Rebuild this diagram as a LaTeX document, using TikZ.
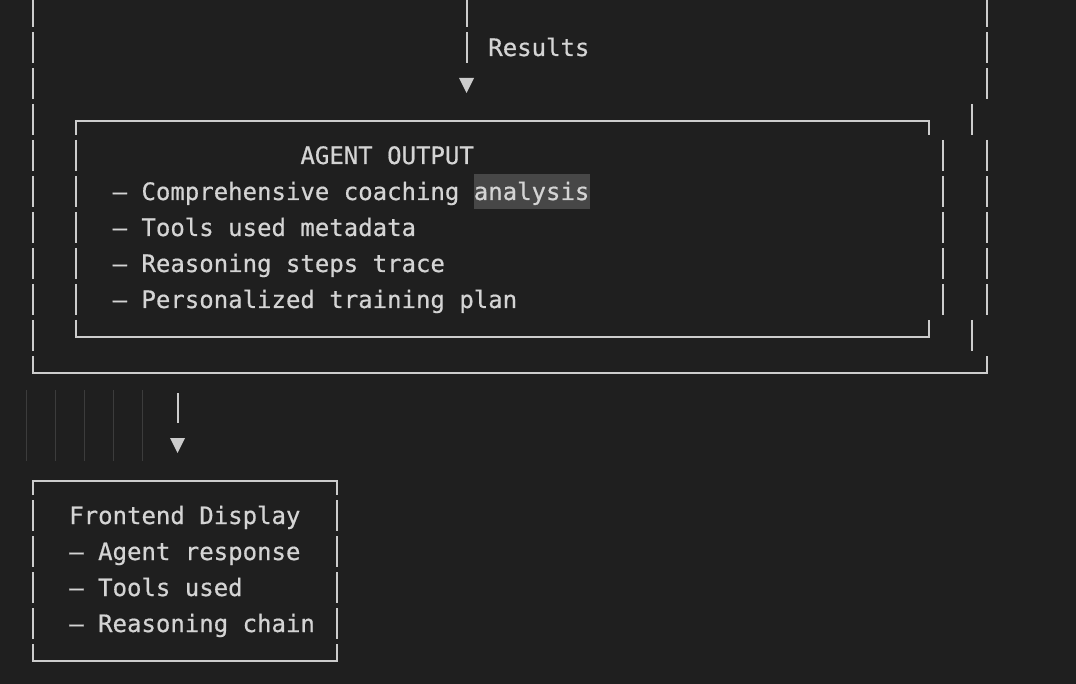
\documentclass[tikz,border=0pt]{standalone}
\usepackage{fontspec}
\newfontfamily\monofam[FakeBold=0.6]{DejaVu Sans Mono}
\definecolor{bgc}{HTML}{1F1F1F}
\definecolor{fgc}{HTML}{CCCCCC}
\definecolor{txc}{HTML}{D4D4D4}
\definecolor{hlc}{HTML}{474747}
\definecolor{guidec}{HTML}{3C3C3C}
\begin{document}
\begin{tikzpicture}[x=1pt,y=-1pt,
  bar/.style={draw=fgc,line width=2pt},
  guide/.style={draw=guidec,line width=1pt},
  txt/.style={text=txc,font=\monofam\fontsize{24pt}{36pt}\selectfont,inner sep=0pt,outer sep=0pt,anchor=base west},
  tri/.style={fill=fgc}]
\fill[bgc] (0,0) rectangle (1076,684);
\useasboundingbox (0,0) rectangle (1076,684);

% highlight behind "analysis"
\fill[hlc] (473.9,174) rectangle (589.5,209);

% ---- outer box (rows 0..10) ----
\foreach \r in {0,...,9}
  \draw[bar] (33.1,{-7+36*\r+3}) -- (33.1,{-7+36*\r+34});
\foreach \r in {0,1,2,4,5,6,7,8}
  \draw[bar] (986.8,{-7+36*\r+3}) -- (986.8,{-7+36*\r+34});
\foreach \r in {3,9}
  \draw[bar] (972.35,{-7+36*\r+3}) -- (972.35,{-7+36*\r+34});
\coordinate (outbl) at (33.1,373);
\coordinate (outbr) at (986.8,373);
\draw[bar] (33.1,356) -- (outbl) -- (outbr) -- (986.8,356);

% ---- inner AGENT OUTPUT box ----
\coordinate (intl) at (76.45,121);
\coordinate (intr) at (929,121);
\coordinate (inbl) at (76.45,337);
\coordinate (inbr) at (929,337);
\draw[bar] (76.45,135) -- (intl) -- (intr) -- (929,135);
\draw[bar] (76.45,320) -- (inbl) -- (inbr) -- (929,320);
\foreach \r in {4,...,8}{
  \draw[bar] (76.45,{-7+36*\r+3}) -- (76.45,{-7+36*\r+34});
  \draw[bar] (943.45,{-7+36*\r+3}) -- (943.45,{-7+36*\r+34});
}

% ---- Results arrow ----
\foreach \r in {0,1}
  \draw[bar] (466.6,{-7+36*\r+3}) -- (466.6,{-7+36*\r+34});
\coordinate (tipA) at (466.6,93);
\fill[tri] (tipA) -- ++(-7.5,-15) -- ++(15,0) -- cycle;
\node[txt] (lblres) at (488.3,56) {Results};

% ---- AGENT OUTPUT text ----
\node[txt] (agtitle) at (300.45,164) {AGENT OUTPUT};
\node[txt] (ag1) at (112.6,200) {– Comprehensive coaching analysis};
\node[txt] (ag2) at (112.6,236) {– Tools used metadata};
\node[txt] (ag3) at (112.6,272) {– Reasoning steps trace};
\node[txt] (ag4) at (112.6,308) {– Personalized training plan};

% ---- indentation guides ----
\foreach \gx in {26.9,55.8,84.7,113.6,142.5}
  \draw[guide] (\gx,390) -- (\gx,461);

% ---- arrow to frontend ----
\coordinate (arrBs) at (177.6,393);
\coordinate (arrBe) at (177.6,423);
\draw[bar] (arrBs) -- (arrBe);
\coordinate (tipB) at (177.6,453);
\fill[tri] (tipB) -- ++(-7.5,-15) -- ++(15,0) -- cycle;

% ---- Frontend Display box ----
\coordinate (fetl) at (33.1,481);
\coordinate (fetr) at (336.55,481);
\coordinate (febl) at (33.1,661);
\coordinate (febr) at (336.55,661);
\draw[bar] (33.1,495) -- (fetl) -- (fetr) -- (336.55,495);
\draw[bar] (33.1,644) -- (febl) -- (febr) -- (336.55,644);
\foreach \r in {14,...,17}{
  \draw[bar] (33.1,{-7+36*\r+3}) -- (33.1,{-7+36*\r+34});
  \draw[bar] (336.55,{-7+36*\r+3}) -- (336.55,{-7+36*\r+34});
}
\node[txt] (fe0) at (69.25,524) {Frontend Display};
\node[txt] (fe1) at (69.25,560) {– Agent response};
\node[txt] (fe2) at (69.25,596) {– Tools used};
\node[txt] (fe3) at (69.25,632) {– Reasoning chain};
\end{tikzpicture}
\end{document}
